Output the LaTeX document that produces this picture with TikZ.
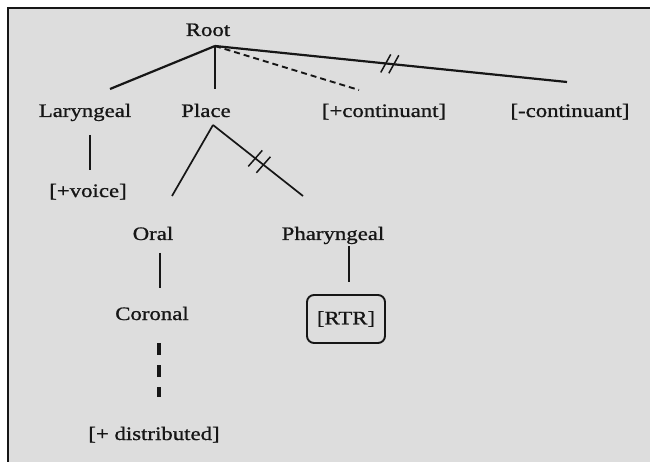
\documentclass[tikz,border=0pt]{standalone}
\usepackage{fontspec}
\setmainfont{Liberation Serif}[FakeStretch=1.2,FakeBold=0.9]
\usetikzlibrary{calc}
\definecolor{panel}{RGB}{221,221,221}
\definecolor{ink}{RGB}{22,22,22}
\begin{document}
\begin{tikzpicture}[x=1pt,y=-1pt,
  lbl/.style={anchor=base,inner sep=0pt,text=ink,font=\fontsize{19}{22}\selectfont},
  branch/.style={draw=ink,line width=2.2pt},
  thin/.style={draw=ink,line width=1.7pt},
  cut/.style={draw=ink,line width=1.5pt},
  optional/.style={draw=ink,line width=1.9pt,dash pattern=on 6pt off 4pt},
  extension/.style={draw=ink,line width=4pt,dash pattern=on 12pt off 10pt},
  boxed/.style={draw=ink,line width=1.9pt,rounded corners=7pt,minimum width=78pt,minimum height=48pt,inner sep=0pt,text=ink,font=\fontsize{19}{22}\selectfont}]
\useasboundingbox (0,0) rectangle (650,462);
% panel with its frame
\fill[panel] (8,8) rectangle (650,462);
\draw[ink,line width=2.4pt] (8,462) -- (8,8) -- (650,8);

% labels
\node[lbl] (root)  at (208,36)  {Root};
\node[lbl] (lar)   at (85,117)  {Laryngeal};
\node[lbl] (place) at (206,117) {Place};
\node[lbl] (pcont) at (384,117) {[+continuant]};
\node[lbl] (mcont) at (570,117) {[-continuant]};
\node[lbl] (voice) at (88,197)  {[+voice]};
\node[lbl] (oral)  at (153,240) {Oral};
\node[lbl] (phar)  at (333,240) {Pharyngeal};
\node[lbl] (cor)   at (152,320) {Coronal};
\node[boxed] (rtr) at (346,319) {[RTR]};
\node[lbl] (dist)  at (154,440) {[+ distributed]};

% connector ends
\coordinate (rootj)   at (215,46);
\coordinate (lartop)  at (110,89);
\coordinate (pltop)   at (215,89);
\coordinate (pcend)   at (359,90);
\coordinate (mcend)   at (567,82);
\coordinate (larbot)  at (90,135);
\coordinate (voicetop) at (90,170);
\coordinate (plbot)   at (213,125);
\coordinate (oraltop) at (172,196);
\coordinate (phartop) at (303,196);
\coordinate (oralbot) at (160,253);
\coordinate (cortop)  at (160,288);
\coordinate (pharbot) at (349,246);
\coordinate (rtrtop)  at (349,282);
\coordinate (corbot)  at (159,343);
\coordinate (disttop) at (159,397);

% tree
\draw[branch] (rootj) -- (lartop);
\draw[branch] (rootj) -- (pltop);
\draw[optional] (rootj) -- (pcend);
\draw[branch] (rootj) -- (mcend);
\draw[thin] (larbot) -- (voicetop);
\draw[thin] (plbot) -- (oraltop);
\draw[thin] (plbot) -- (phartop);
\draw[thin] (oralbot) -- (cortop);
\draw[thin] (pharbot) -- (rtrtop);
\draw[extension] (corbot) -- (disttop);

% delinking marks
\foreach \t in {0.485,0.508}{
  \draw[cut] ($(rootj)!\t!(mcend)+(-5,9)$) -- ($(rootj)!\t!(mcend)+(5,-9)$);
}
\foreach \t in {0.47,0.56}{
  \draw[cut] ($(plbot)!\t!(phartop)+(-7,8)$) -- ($(plbot)!\t!(phartop)+(7,-8)$);
}
\end{tikzpicture}
\end{document}
